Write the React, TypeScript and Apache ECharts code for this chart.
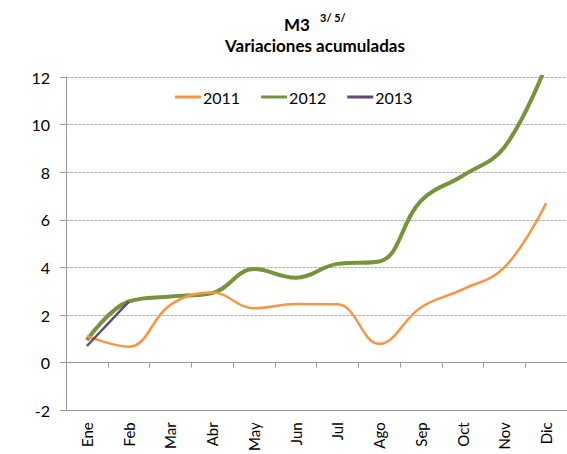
import React, { useEffect, useRef } from "react";
import * as echarts from "echarts";

const months = ["Ene", "Feb", "Mar", "Abr", "May", "Jun", "Jul", "Ago", "Sep", "Oct", "Nov", "Dic"];
const s2011 = [1.12, 0.67, 2.43, 2.95, 2.29, 2.46, 2.45, 0.79, 2.32, 3.08, 4.0, 6.7];
const s2012 = [0.95, 2.57, 2.78, 2.92, 3.93, 3.57, 4.15, 4.25, 6.8, 7.85, 9.05, 12.5];
const s2013 = [0.7, 2.55];
const seriesNames = ["2011", "2012", "2013"];
const seriesColors = ["#F79646", "#77933C", "#604A7B"];
const yTicks = { min: -2, max: 12, interval: 2 };

const FONT = "Lato, 'Open Sans', sans-serif";

export default function App() {
  const ref = useRef<HTMLDivElement>(null);
  useEffect(() => {
    if (!ref.current) return;
    const chart = echarts.init(ref.current, undefined, { renderer: "svg" });
    chart.setOption({
      animation: false,
      textStyle: { fontFamily: FONT },
      graphic: [
        {
          type: "text",
          x: 297,
          y: 24,
          style: { text: "M3", font: `bold 17px ${FONT}`, fill: "#000", align: "center", verticalAlign: "middle" },
        },
        {
          type: "text",
          x: 320,
          y: 17,
          style: { text: "3/ 5/", font: `bold 11px ${FONT}`, fill: "#000", align: "left", verticalAlign: "middle" },
        },
        {
          type: "text",
          x: 315,
          y: 45,
          style: {
            text: "Variaciones acumuladas",
            font: `bold 17px ${FONT}`,
            fill: "#000",
            align: "center",
            verticalAlign: "middle",
          },
        },
      ],
      legend: {
        left: 170,
        top: 84,
        itemWidth: 26,
        itemHeight: 3,
        itemGap: 21,
        icon: "rect",
        data: seriesNames.map((n, i) => ({ name: n, icon: "rect", itemStyle: { color: seriesColors[i] } })),
        textStyle: { fontFamily: FONT, fontSize: 16, color: "#000", padding: [0, 0, 0, -3] },
      },
      grid: { left: 66, right: 0, top: 77, bottom: 41, containLabel: false },
      xAxis: [
        {
          type: "category",
          data: months,
          boundaryGap: true,
          position: "bottom",
          axisLine: { onZero: false, lineStyle: { color: "#9a9a9a", width: 1 } },
          axisTick: { show: false },
          axisLabel: { rotate: 90, margin: 12, fontSize: 15, color: "#000", fontFamily: FONT, interval: 0 },
        },
        {
          type: "category",
          data: months,
          boundaryGap: true,
          position: "bottom",
          axisLine: { onZero: true, lineStyle: { color: "#9a9a9a", width: 1 } },
          axisTick: { show: true, inside: false, length: 5, lineStyle: { color: "#9a9a9a" } },
          axisLabel: { show: false },
        },
      ],
      yAxis: {
        type: "value",
        min: yTicks.min,
        max: yTicks.max,
        interval: yTicks.interval,
        axisLine: { show: true, lineStyle: { color: "#9a9a9a" } },
        axisTick: { show: true, length: 6, lineStyle: { color: "#9a9a9a" } },
        axisLabel: { fontSize: 16, color: "#000", margin: 16, fontFamily: FONT },
        splitLine: { show: true, lineStyle: { color: "#b4b4b4", type: [3, 1], width: 1 } },
      },
      series: [
        {
          name: seriesNames[0],
          type: "line",
          data: s2011,
          smooth: 0.4,
          symbol: "none",
          lineStyle: { color: seriesColors[0], width: 2.5 },
          itemStyle: { color: seriesColors[0] },
          z: 3,
        },
        {
          name: seriesNames[1],
          type: "line",
          data: s2012,
          smooth: 0.4,
          symbol: "none",
          lineStyle: { color: seriesColors[1], width: 4 },
          itemStyle: { color: seriesColors[1] },
          z: 2,
        },
        {
          name: seriesNames[2],
          type: "line",
          data: s2013,
          smooth: 0.4,
          symbol: "none",
          lineStyle: { color: seriesColors[2], width: 2.5 },
          itemStyle: { color: seriesColors[2] },
          z: 4,
        },
      ],
    });
    return () => chart.dispose();
  }, []);
  return <div ref={ref} style={{ width: 567, height: 454, position: "absolute", left: 0, top: 0 }} />;
}
